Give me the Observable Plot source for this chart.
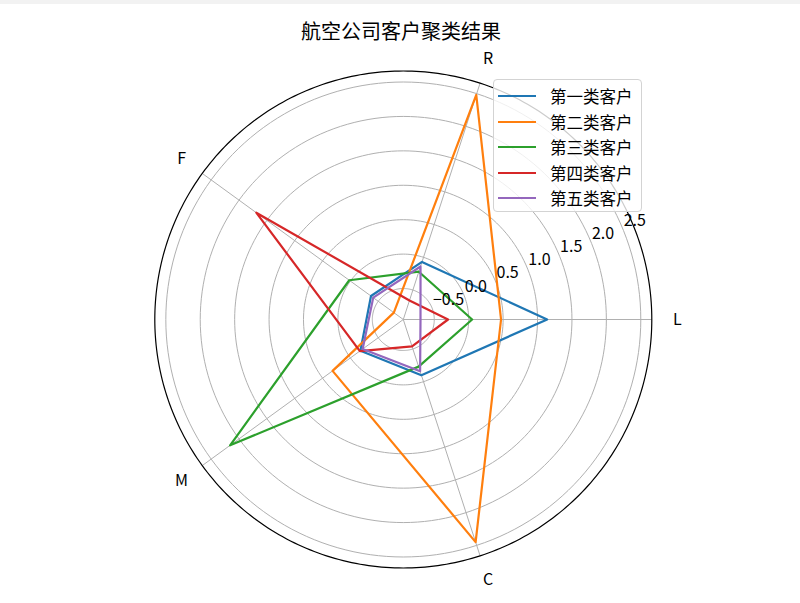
<!DOCTYPE html>
<html><head><meta charset="utf-8">
<script src="https://cdn.jsdelivr.net/npm/d3@7"></script>
<script src="https://cdn.jsdelivr.net/npm/@observablehq/plot@0.6"></script>
<style>
html,body{margin:0;padding:0;background:#fff;}
#wrap{position:relative;width:800px;height:603px;overflow:hidden;font-family:"Noto Sans CJK SC",sans-serif;}
#topband{position:absolute;left:0;top:0;width:800px;height:4px;background:#f2f2f2;}
#title{position:absolute;left:401px;transform:translateX(-50%);top:24px;font-size:20px;line-height:14px;height:14px;color:#000;white-space:nowrap;}
#legend{position:absolute;left:493px;top:79px;width:149px;height:133px;box-sizing:border-box;border:1px solid #d3d3d3;border-radius:4px;background:rgba(255,255,255,0.8);}
.sw{position:absolute;left:4px;width:38px;height:2px;}
.lt{position:absolute;left:56px;font-size:16.5px;line-height:20px;height:20px;color:#000;white-space:nowrap;}
#chart svg{display:block;}
</style>
</head><body>
<div id="wrap">
  <div id="chart"></div>
  <div id="topband"></div>
  <div id="title">航空公司客户聚类结果</div>
  <div id="legend"></div>
</div>
<script>
// ---- data ----
const axesNames = ["L", "R", "F", "M", "C"];
const seriesNames = ["第一类客户", "第二类客户", "第三类客户", "第四类客户", "第五类客户"];
const cluster1 = [1.14, -0.07, -0.37, -0.18, -0.10];
const cluster2 = [0.47, 2.48, -0.78, 0.32, 2.45];
const cluster3 = [0.05, -0.22, 0.02, 2.16, -0.23];
const cluster4 = [-0.30, -0.66, 1.69, -0.17, -0.54];
const cluster5 = [-0.70, -0.14, -0.41, -0.22, -0.16];
const rTicks = [-0.5, 0, 0.5, 1, 1.5, 2, 2.5];
const rTickLabels = ["−0.5", "0.0", "0.5", "1.0", "1.5", "2.0", "2.5"];
const colors = ["#1f77b4", "#ff7f0e", "#2ca02c", "#d62728", "#9467bd"];

// ---- radial geometry ----
const rMin = -0.95;
const rMax = 2.66;
const outer = rMax - rMin;
const labelR = outer * 1.103;
const rad = d => d * Math.PI / 180;
const angles = axesNames.map((_, i) => i * 360 / axesNames.length);
const px = (v, a) => (v - rMin) * Math.cos(rad(a));
const py = (v, a) => (v - rMin) * Math.sin(rad(a));

const allSeries = [cluster1, cluster2, cluster3, cluster4, cluster5];
const lineData = [];
allSeries.forEach((vals, s) => vals.forEach((v, i) => {
  lineData.push({series: seriesNames[s], axis: axesNames[i], x: px(v, angles[i]), y: py(v, angles[i])});
}));

const circleData = [];
rTicks.forEach(t => { for (let a = 0; a < 360; a += 2) circleData.push({t, x: px(t, a), y: py(t, a)}); });
const outerData = [];
for (let a = 0; a < 360; a += 1) outerData.push({x: px(rMax, a), y: py(rMax, a)});

const spokes = axesNames.map((n, i) => ({n, a: angles[i]}));

const chart = Plot.plot({
  width: 800,
  height: 603,
  marginLeft: 154.3,
  marginRight: 148.7,
  marginTop: 70.5,
  marginBottom: 35.5,
  x: {domain: [-outer, outer], axis: null},
  y: {domain: [-outer, outer], axis: null},
  color: {domain: seriesNames, range: colors},
  style: {fontFamily: "Noto Sans CJK SC", background: "transparent", overflow: "visible"},
  marks: [
    Plot.line(circleData, {x: "x", y: "y", z: "t", curve: "linear-closed", stroke: "#b0b0b0", strokeWidth: 1}),
    Plot.link(spokes, {x1: () => 0, y1: () => 0, x2: d => px(rMax, d.a), y2: d => py(rMax, d.a), stroke: "#b0b0b0", strokeWidth: 1}),
    Plot.line(lineData, {x: "x", y: "y", z: "series", stroke: "series", curve: "linear-closed", strokeWidth: 2.2}),
    Plot.line(outerData, {x: "x", y: "y", curve: "linear-closed", stroke: "#000", strokeWidth: 1.2}),
    Plot.text(rTicks, {x: t => px(t, 22.5), y: t => py(t, 22.5), text: (t, i) => rTickLabels[i], textAnchor: "start", dx: 1, dy: -8, fontSize: 16, fill: "#000"}),
    Plot.text(spokes, {x: d => labelR * Math.cos(rad(d.a)), y: d => labelR * Math.sin(rad(d.a)), text: "n", fontSize: 16, fill: "#000"})
  ]
});
document.getElementById("chart").appendChild(chart);

// ---- legend ----
const lg = document.getElementById("legend");
seriesNames.forEach((name, i) => {
  const cy = 16.2 + i * 25.5;
  const sw = document.createElement("div");
  sw.className = "sw";
  sw.style.top = (cy - 1) + "px";
  sw.style.background = colors[i];
  lg.appendChild(sw);
  const t = document.createElement("div");
  t.className = "lt";
  t.style.top = (cy - 10) + "px";
  t.textContent = name;
  lg.appendChild(t);
});
</script>
</body></html>
